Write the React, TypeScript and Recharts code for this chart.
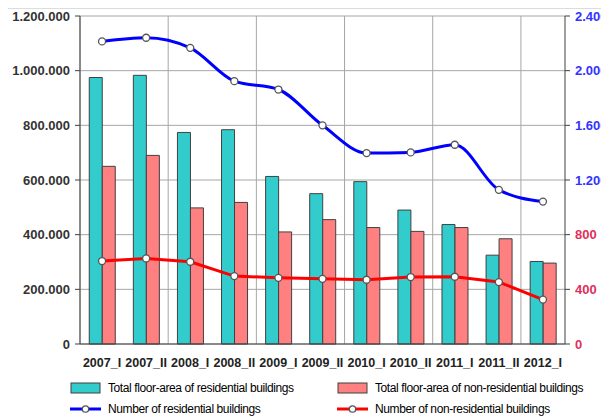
import React from 'react';
import {
  Bar,
  CartesianGrid,
  ComposedChart,
  Legend,
  Line,
  XAxis,
  YAxis,
} from 'recharts';

const periods = ['2007_I', '2007_II', '2008_I', '2008_II', '2009_I', '2009_II', '2010_I', '2010_II', '2011_I', '2011_II', '2012_I'];
const residentialArea = [975000, 983000, 774000, 784000, 613000, 550000, 594000, 490000, 437000, 325000, 302000];
const nonResidentialArea = [650000, 690000, 498000, 518000, 410000, 455000, 426000, 412000, 426000, 385000, 296000];
const residentialCount = [2214, 2241, 2167, 1923, 1862, 1600, 1397, 1402, 1458, 1128, 1042];
const nonResidentialCount = [607, 626, 602, 497, 484, 477, 470, 490, 492, 453, 325];

const leftTicks = [0, 200000, 400000, 600000, 800000, 1000000, 1200000];
const rightTicks = [0, 400, 800, 1200, 1600, 2000, 2400];

const data = periods.map((p, i) => ({
  period: p,
  resArea: residentialArea[i],
  nonResArea: nonResidentialArea[i],
  resCount: residentialCount[i],
  nonResCount: nonResidentialCount[i],
}));

const TEAL = '#33CCCC';
const SALMON = '#FF8080';
const BLUE = '#0000FF';
const RED = '#FF0000';
const EDGE = '#404040';

const dotted = (n: number) => String(n).replace(/\B(?=(\d{3})+(?!\d))/g, '.');

const axisFont = { fontFamily: '"Liberation Sans", Arial, sans-serif', fontWeight: 700, fontSize: 13 };

function RightTick(props: any) {
  const { x, y, payload } = props;
  const color = payload.value >= 1200 ? '#3333FF' : '#E0305A';
  return (
    <text x={x} y={y} dy="0.35em" textAnchor="start" fill={color} style={axisFont}>
      {dotted(payload.value)}
    </text>
  );
}

const legendItems = [
  { label: 'Total floor-area of residential buildings', kind: 'bar', color: TEAL },
  { label: 'Total floor-area of non-residential buildings', kind: 'bar', color: SALMON },
  { label: 'Number of residential buildings', kind: 'line', color: BLUE },
  { label: 'Number of non-residential buildings', kind: 'line', color: RED },
];

function LegendIcon({ kind, color }: { kind: string; color: string }) {
  return (
    <svg width={32} height={12} style={{ marginRight: 6, flex: 'none' }}>
      {kind === 'bar' ? (
        <rect x={1} y={1} width={29} height={10} fill={color} stroke={EDGE} strokeWidth={1} />
      ) : (
        <>
          <line x1={0} y1={6} x2={31} y2={6} stroke={color} strokeWidth={3} />
          <circle cx={15.5} cy={6} r={3.2} fill="#fff" stroke="#555" strokeWidth={1.3} />
        </>
      )}
    </svg>
  );
}

function ChartLegend() {
  return (
    <div
      style={{
        display: 'grid',
        gridTemplateColumns: '267px 270px',
        rowGap: 5,
        paddingLeft: 62,
        paddingTop: 6,
        fontFamily: '"Liberation Sans", Arial, sans-serif',
        fontSize: 12,
        letterSpacing: -0.4,
        whiteSpace: 'nowrap',
        color: '#000',
      }}
    >
      {legendItems.map((it) => (
        <div key={it.label} style={{ display: 'flex', alignItems: 'center', height: 16 }}>
          <LegendIcon kind={it.kind} color={it.color} />
          <span>{it.label}</span>
        </div>
      ))}
    </div>
  );
}

export default function App() {
  return (
    <div style={{ width: 601, height: 411, borderTop: '1px solid #dcdcdc', borderLeft: '1px solid #dcdcdc', boxSizing: 'border-box', marginLeft: -1 }}>
      <ComposedChart
        width={600}
        height={408}
        data={data}
        margin={{ top: 7, right: 0, bottom: 0, left: 0 }}
        barCategoryGap="21%"
        barGap={0}
      >
        <CartesianGrid
          yAxisId="left"
          stroke="#a6a6a6"
          strokeWidth={1}
          verticalCoordinatesGenerator={({ offset }: any) => {
            const w = offset.width / periods.length;
            return [0, 2, 4, 6, 8, 10].map((i) => offset.left + i * w);
          }}
        />
        <XAxis
          dataKey="period"
          interval={0}
          tickLine={false}
          axisLine={{ stroke: EDGE }}
          height={30}
          tick={{ ...axisFont, fontSize: 12.5, fill: '#222' }}
          tickMargin={8}
        />
        <YAxis
          yAxisId="left"
          domain={[0, 1200000]}
          ticks={leftTicks}
          interval={0}
          width={72}
          tickFormatter={dotted}
          tick={{ ...axisFont, fill: '#333' }}
          tickSize={5}
          tickMargin={5}
          axisLine={{ stroke: EDGE }}
          tickLine={{ stroke: EDGE }}
        />
        <YAxis
          yAxisId="right"
          orientation="right"
          domain={[0, 2400]}
          ticks={rightTicks}
          interval={0}
          width={43}
          tick={<RightTick />}
          tickSize={5}
          tickMargin={5}
          axisLine={{ stroke: EDGE }}
          tickLine={{ stroke: EDGE }}
        />
        <Legend verticalAlign="bottom" content={<ChartLegend />} wrapperStyle={{ height: 43 }} />
        <Bar yAxisId="left" dataKey="resArea" fill={TEAL} stroke={EDGE} strokeWidth={1} isAnimationActive={false} />
        <Bar yAxisId="left" dataKey="nonResArea" fill={SALMON} stroke={EDGE} strokeWidth={1} isAnimationActive={false} />
        <Line
          yAxisId="right"
          type="monotone"
          dataKey="resCount"
          stroke={BLUE}
          strokeWidth={3}
          dot={{ r: 3.5, fill: '#fff', stroke: '#555', strokeWidth: 1.3 }}
          isAnimationActive={false}
        />
        <Line
          yAxisId="right"
          type="linear"
          dataKey="nonResCount"
          stroke={RED}
          strokeWidth={3}
          dot={{ r: 3.5, fill: '#fff', stroke: '#555', strokeWidth: 1.3 }}
          isAnimationActive={false}
        />
      </ComposedChart>
    </div>
  );
}
